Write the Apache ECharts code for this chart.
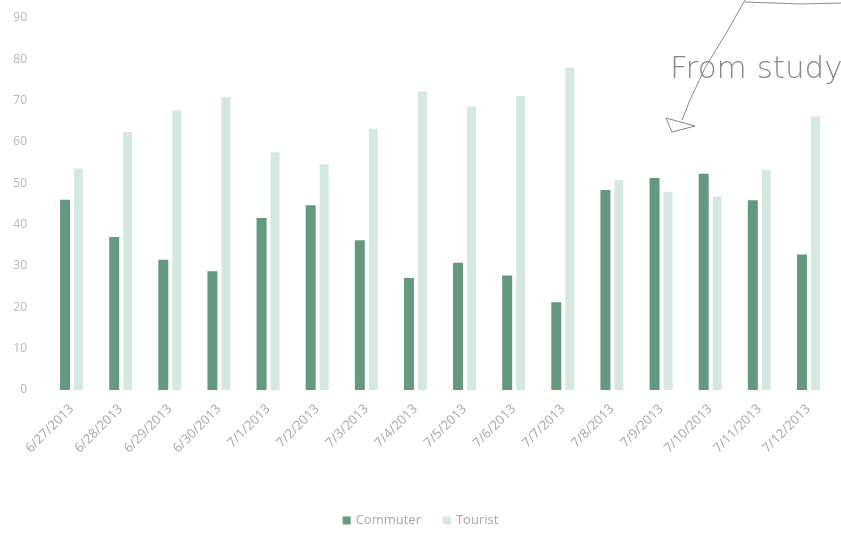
<!DOCTYPE html>
<html>
<head>
<meta charset="utf-8">
<script src="https://cdn.jsdelivr.net/npm/echarts@6/dist/echarts.min.js"></script>
<style>html,body{margin:0;padding:0;background:#fff}#c{width:841px;height:539px}</style>
</head>
<body>
<div id="c"></div>
<script>
const categories = ['6/27/2013','6/28/2013','6/29/2013','6/30/2013','7/1/2013','7/2/2013','7/3/2013','7/4/2013','7/5/2013','7/6/2013','7/7/2013','7/8/2013','7/9/2013','7/10/2013','7/11/2013','7/12/2013'];
const commuter = [46, 37, 31.5, 28.7, 41.6, 44.7, 36.2, 27.1, 30.8, 27.7, 21.2, 48.4, 51.3, 52.3, 45.9, 32.8];
const tourist = [53.6, 62.4, 67.6, 70.9, 57.5, 54.6, 63.2, 72.3, 68.6, 71.1, 78, 50.8, 47.9, 46.8, 53.2, 66.2];
const yTicks = [0, 10, 20, 30, 40, 50, 60, 70, 80, 90];

const chart = echarts.init(document.getElementById('c'));
const font = 'Open Sans';
chart.setOption({
  animation: false,
  backgroundColor: '#fff',
  grid: { left: 47, right: 8, top: 18, bottom: 149 },
  legend: {
    bottom: 7, left: 'center',
    itemWidth: 8, itemHeight: 8, itemGap: 22,
    icon: 'rect',
    textStyle: { color: '#a8a8a8', fontSize: 13, fontFamily: font },
    data: ['Commuter', 'Tourist']
  },
  xAxis: {
    type: 'category', data: categories,
    axisLine: { show: false }, axisTick: { show: false },
    axisLabel: { rotate: 45, color: '#a8a8a8', fontSize: 13, fontFamily: font, margin: 17, interval: 0 }
  },
  yAxis: {
    type: 'value', min: yTicks[0], max: yTicks[yTicks.length - 1], interval: 10,
    splitLine: { show: false }, axisLine: { show: false }, axisTick: { show: false },
    axisLabel: { color: '#b8b8b8', fontSize: 12, fontFamily: font, margin: 20 }
  },
  series: [
    { name: 'Commuter', type: 'bar', data: commuter, barWidth: 10, barGap: '40%',
      itemStyle: { color: '#62997f' } },
    { name: 'Tourist', type: 'bar', data: tourist, barWidth: 9,
      itemStyle: { color: '#d4e8e0' } }
  ],
  graphic: [
    { type: 'polyline', shape: { points: [[745, 0], [728, 30], [705, 68], [690, 100], [682, 120]] },
      style: { stroke: '#888', lineWidth: 1, fill: null } },
    { type: 'polyline', shape: { points: [[745, 2], [800, 4], [841, 3]] },
      style: { stroke: '#888', lineWidth: 1, fill: null } },
    { type: 'polyline', shape: { points: [[666, 118], [695, 126], [672, 132], [666, 118]] },
      style: { stroke: '#888', lineWidth: 1, fill: null } },
    { type: 'text', x: 670, y: 54,
      style: { text: 'From study', fill: '#888', font: '300 31px "DejaVu Sans"' } }
  ]
});
</script>
</body>
</html>
